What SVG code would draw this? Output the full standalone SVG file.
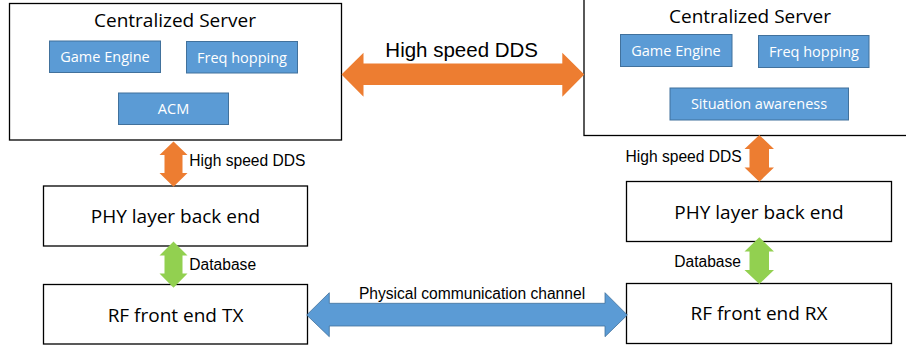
<svg xmlns="http://www.w3.org/2000/svg" width="906" height="347" viewBox="0 0 906 347">
<style>
.box{fill:#fff;stroke:#000;stroke-width:1.3}
.sub{fill:#5B9BD5;stroke:#41719C;stroke-width:1}
.t{font-family:"Open Sans","Noto Sans",sans-serif;fill:#000;text-anchor:middle}
.big{font-size:19px}
.mid{font-size:19px}
.w{font-family:"Open Sans","Noto Sans",sans-serif;fill:#fff;text-anchor:middle;font-size:14.5px}
.a{font-family:"Liberation Sans",Arial,sans-serif;fill:#000}
.s{font-size:15.6px}
.orange{fill:#ED7D31}
.green{fill:#92D050}
.blue{fill:#5B9BD5;stroke:#41719C;stroke-width:0.8}
</style>
<rect width="906" height="347" fill="#fff"/>
<g id="serverL">
<rect class="box" x="9.5" y="3.5" width="332" height="136.5"/>
<text class="t big" x="175" y="27">Centralized Server</text>
</g>
<g id="gameL"><rect class="sub" x="49.5" y="41" width="111" height="31.5"/><text class="w" x="105" y="62">Game Engine</text></g>
<g id="freqL"><rect class="sub" x="186.5" y="41.5" width="111" height="31.5"/><text class="w" x="242" y="62.5">Freq hopping</text></g>
<g id="acmL"><rect class="sub" x="118.5" y="93" width="110" height="31.5"/><text class="w" x="173.5" y="114">ACM</text></g>
<g id="serverR">
<rect class="box" x="584" y="-2" width="330" height="137.5"/>
<text class="t big" x="750" y="23">Centralized Server</text>
</g>
<g id="gameR"><rect class="sub" x="620.5" y="34.5" width="111.5" height="32"/><text class="w" x="676" y="55.5">Game Engine</text></g>
<g id="freqR"><rect class="sub" x="758.5" y="35.5" width="110.5" height="32"/><text class="w" x="814" y="56.5">Freq hopping</text></g>
<g id="situR"><rect class="sub" x="670" y="88" width="178.5" height="32"/><text class="w" x="759" y="109">Situation awareness</text></g>
<g id="phyL"><rect class="box" x="43.5" y="186" width="264" height="60"/><text class="t mid" x="175.5" y="223">PHY layer back end</text></g>
<g id="rfTX"><rect class="box" x="43.5" y="284.5" width="264" height="59.5"/><text class="t mid" x="175.5" y="322">RF front end TX</text></g>
<g id="phyR"><rect class="box" x="626.5" y="181.5" width="265" height="60"/><text class="t mid" x="759" y="219">PHY layer back end</text></g>
<g id="rfRX"><rect class="box" x="626.5" y="283.5" width="265" height="60"/><text class="t mid" x="759" y="320">RF front end RX</text></g>
<g id="connectors">
<polygon class="orange" points="341.5,74.5 363.5,52.7 363.5,63.5 562.3,63.5 562.3,52.7 584.3,74.5 562.3,96.7 562.3,85 363.5,85 363.5,96.7"/>
<text class="a" x="461.7" y="57" font-size="20.5" text-anchor="middle">High speed DDS</text>
<polygon class="orange" points="173.5,141.5 187.5,155 182.5,155 182.5,173 187.5,173 173.5,186.7 159.5,173 164.5,173 164.5,155 159.5,155"/>
<text class="a s" x="189.3" y="166">High speed DDS</text>
<polygon class="green" points="173.5,241.5 187.5,255.5 182.5,255.5 182.5,273.5 187.5,273.5 173.5,287.7 159.5,273.5 164.5,273.5 164.5,255.5 159.5,255.5"/>
<text class="a s" x="189.3" y="270">Database</text>
<polygon class="orange" points="759.3,135 774,149 769,149 769,167.5 774,167.5 759.3,181.7 744.5,167.5 749.5,167.5 749.5,149 744.5,149"/>
<text class="a s" x="741.7" y="162" text-anchor="end">High speed DDS</text>
<polygon class="green" points="759.3,237.3 774,251.5 769,251.5 769,270 774,270 759.3,284 744.5,270 749.5,270 749.5,251.5 744.5,251.5"/>
<text class="a s" x="741" y="267" text-anchor="end">Database</text>
<polygon class="blue" points="306.7,315 329.3,292.7 329.3,303.3 605,303.3 605,292.7 627.3,315 605,336.7 605,326 329.3,326 329.3,336.7"/>
<text class="a s" x="472" y="298.5" text-anchor="middle">Physical communication channel</text>
</g>
</svg>
